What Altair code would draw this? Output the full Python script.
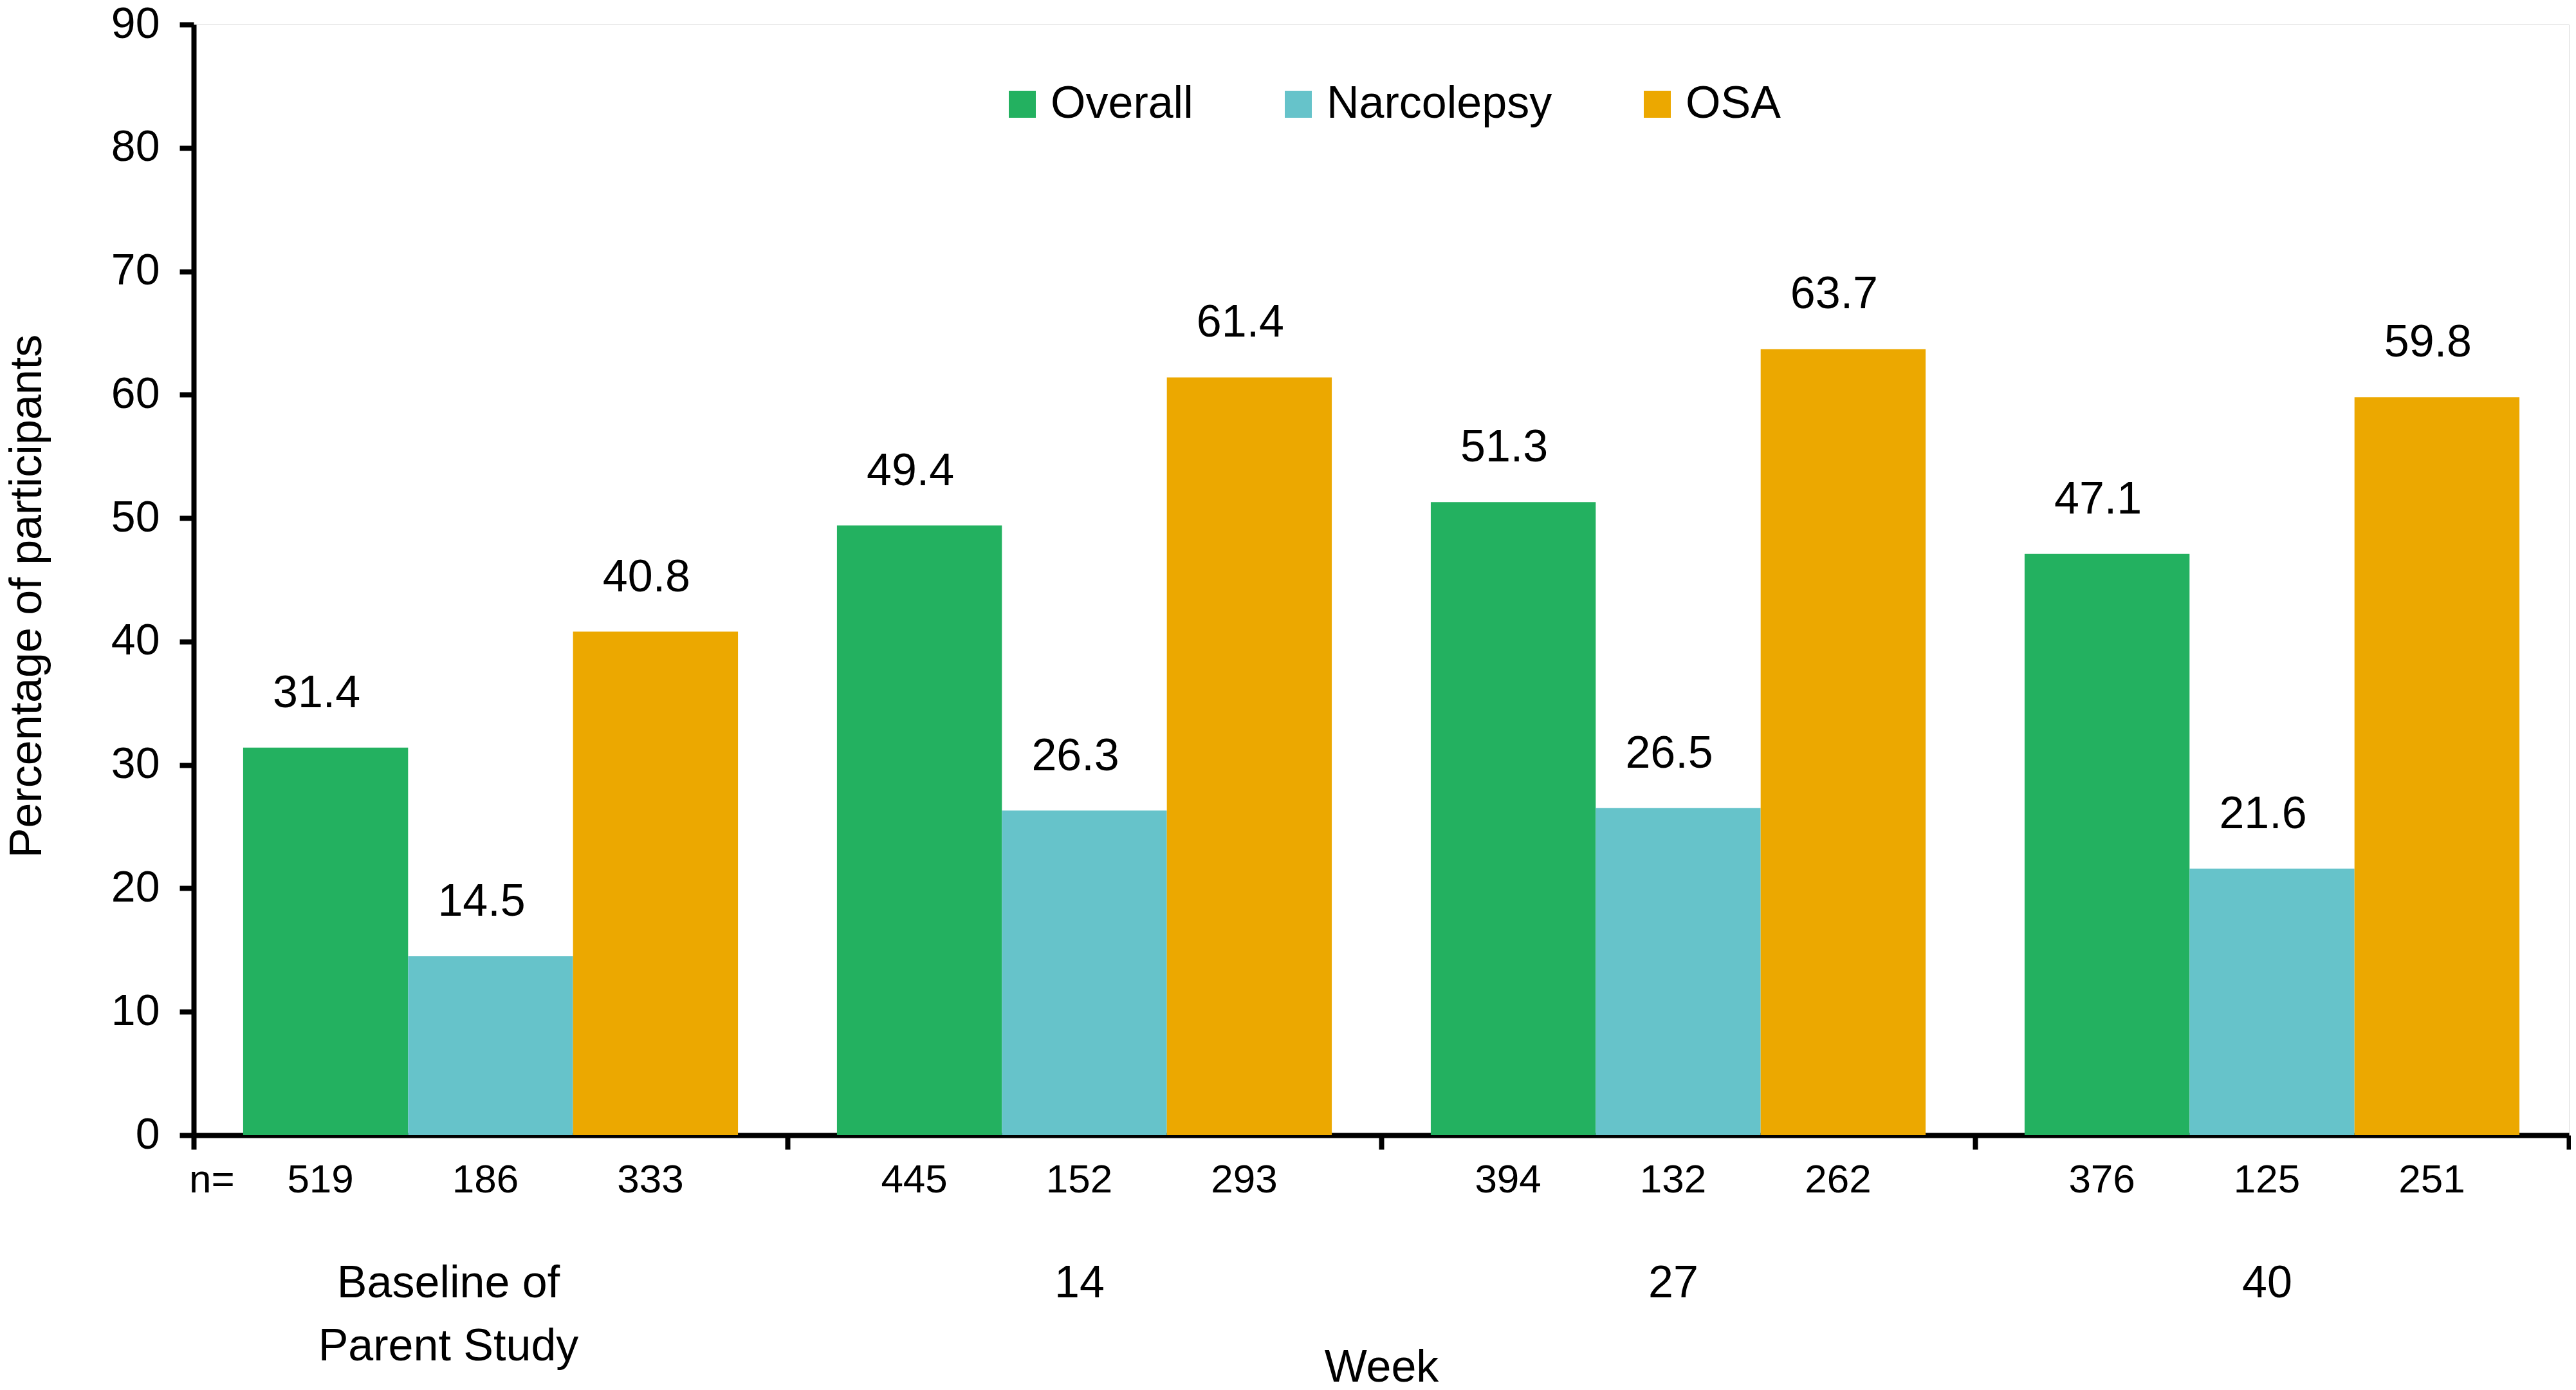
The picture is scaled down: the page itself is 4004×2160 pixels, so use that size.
import altair as alt
import pandas as pd

# ---- data ----
weeks = ["Baseline of Parent Study", "14", "27", "40"]
groups = ["Overall", "Narcolepsy", "OSA"]
overall = [31.4, 49.4, 51.3, 47.1]
narcolepsy = [14.5, 26.3, 26.5, 21.6]
osa = [40.8, 61.4, 63.7, 59.8]
n_overall = [519, 445, 394, 376]
n_narcolepsy = [186, 152, 132, 125]
n_osa = [333, 293, 262, 251]
colors = ["#23B160", "#66C3CA", "#ECA800"]

rows = []
for i, w in enumerate(weeks):
    for g, vals, ns in zip(groups, [overall, narcolepsy, osa], [n_overall, n_narcolepsy, n_osa]):
        rows.append({"week": w, "group": g, "value": vals[i], "n": ns[i]})
df = pd.DataFrame(rows)

FONT = "Liberation Sans"
W, H = 3692, 1726

x_enc = alt.X(
    "week:N",
    sort=weeks,
    scale=alt.Scale(paddingInner=0, paddingOuter=0),
    axis=alt.Axis(
        title="Week",
        titleFont=FONT, titleFontSize=70, titleFontWeight="normal", titleColor="black",
        titleBaseline="alphabetic", titleY=382,
        labelFont=FONT, labelFontSize=70, labelColor="black",
        labelExpr="datum.label == 'Baseline of Parent Study' ? ['Baseline of', 'Parent Study'] : datum.label",
        labelLineHeight=98, labelPadding=174, labelAngle=0, labelLimit=0,
        labelOffset={
            "condition": {"test": "datum.value == 'Baseline of Parent Study'", "value": -66},
            "value": -8,
        },
        tickBand="extent", tickSize=22, tickWidth=8, tickColor="black",
        domainWidth=8, domainColor="black", grid=False,
    ),
)
xo_enc = alt.XOffset("group:N", sort=groups, scale=alt.Scale(paddingOuter=0.3, paddingInner=0))

y_enc = alt.Y(
    "value:Q",
    scale=alt.Scale(domain=[0, 90], nice=False),
    axis=alt.Axis(
        title="Percentage of participants",
        titleFont=FONT, titleFontSize=70, titleFontWeight="normal", titleColor="black",
        titleX=-238, titleY=888, titleAngle=270, titleBaseline="alphabetic", titleAlign="center",
        values=list(range(0, 91, 10)),
        labelFont=FONT, labelFontSize=68, labelColor="black", labelPadding=31,
        tickSize=22, tickWidth=8, tickColor="black",
        domainWidth=8, domainColor="black", grid=False,
    ),
)

base = alt.Chart(df)

bars = base.mark_bar().encode(
    x=x_enc,
    xOffset=xo_enc,
    y=y_enc,
    color=alt.Color(
        "group:N",
        sort=groups,
        scale=alt.Scale(domain=groups, range=colors),
        legend=alt.Legend(
            title=None, orient="none", legendX=1253, legendY=89,
            direction="horizontal", symbolType="square", symbolSize=1764,
            symbolStrokeWidth=0, symbolOpacity=1,
            labelFont=FONT, labelFontSize=70, labelColor="black",
            labelOffset=9, columnPadding=128, labelLimit=0, padding=0,
        ),
    ),
)

value_labels = base.mark_text(
    font=FONT, fontSize=70, color="black", baseline="alphabetic", dy=-63, dx=-14
).encode(
    x=alt.X("week:N", sort=weeks),
    xOffset=alt.XOffset("group:N", sort=groups),
    y=alt.Y("value:Q"),
    text=alt.Text("value:Q", format=".1f"),
)

n_labels = base.mark_text(
    font=FONT, fontSize=62, color="black", baseline="alphabetic", dx=-8
).encode(
    x=alt.X("week:N", sort=weeks),
    xOffset=alt.XOffset("group:N", sort=groups),
    y=alt.value(H + 89),
    text=alt.Text("n:Q"),
)

n_prefix = alt.Chart(pd.DataFrame({"t": ["n="]})).mark_text(
    font=FONT, fontSize=62, color="black", baseline="alphabetic", align="left"
).encode(
    x=alt.value(-7),
    y=alt.value(H + 89),
    text="t:N",
)

chart = alt.layer(bars, value_labels, n_labels, n_prefix).properties(
    width=W,
    height=H,
    autosize=alt.AutoSizeParams(type="none"),
    padding={"left": 293, "top": 30, "right": 3, "bottom": 388},
).configure_view(stroke=None).configure(background="white")

chart.save("out.html", embed_options={"renderer": "svg", "actions": False})
